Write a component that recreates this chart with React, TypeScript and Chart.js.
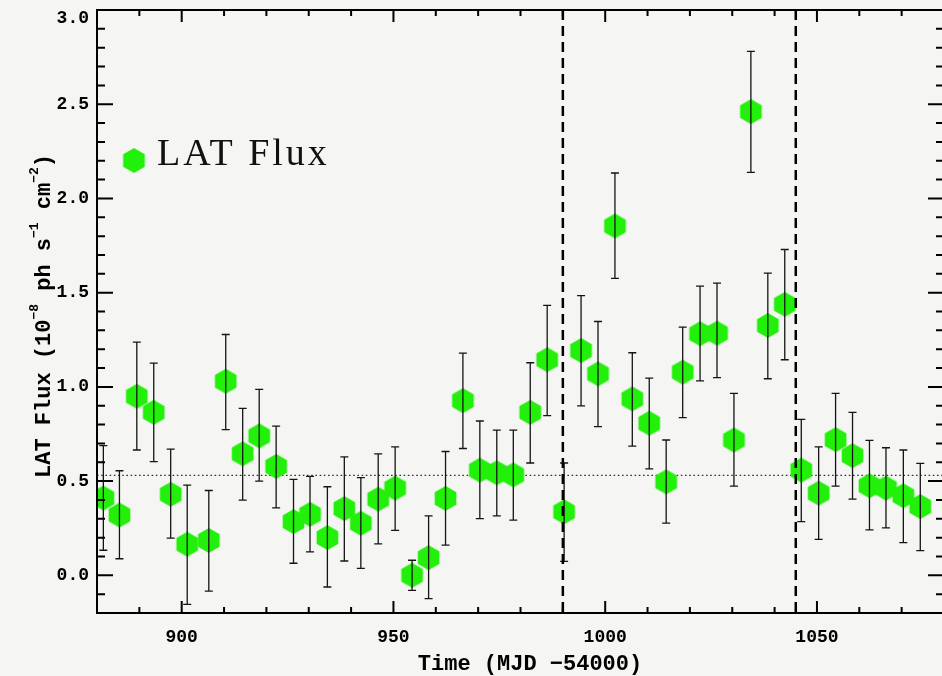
import React, { useEffect, useRef } from "react";
import { Chart, registerables } from "chart.js";

Chart.register(...registerables);

// ---- Data ----
const TIME = [
  881.5, 885.3, 889.4, 893.4, 897.4, 901.3, 906.4, 910.4, 914.4, 918.3,
  922.3, 926.4, 930.3, 934.4, 938.4, 942.3, 946.4, 950.4, 954.4, 958.3,
  962.3, 966.4, 970.4, 974.4, 978.3, 982.3, 986.3, 990.3, 994.3, 998.3,
  1002.3, 1006.4, 1010.4, 1014.4, 1018.3, 1022.4, 1026.4, 1030.4, 1034.4, 1038.4,
  1042.4, 1046.3, 1050.4, 1054.4, 1058.4, 1062.4, 1066.3, 1070.4, 1074.4,
];
const FLUX = [
  0.41, 0.32, 0.95, 0.865, 0.43, 0.165, 0.185, 1.03, 0.645, 0.74,
  0.578, 0.285, 0.324, 0.2, 0.354, 0.276, 0.404, 0.463, 0.0, 0.094,
  0.408, 0.927, 0.558, 0.544, 0.533, 0.865, 1.144, 0.337, 1.193, 1.069,
  1.854, 0.936, 0.807, 0.496, 1.078, 1.282, 1.285, 0.718, 2.461, 1.326,
  1.438, 0.558, 0.436, 0.72, 0.635, 0.475, 0.463, 0.422, 0.365,
];
const FLUX_HIGH = [
  0.688, 0.555, 1.237, 1.126, 0.67, 0.479, 0.45, 1.278, 0.886, 0.987,
  0.792, 0.509, 0.525, 0.47, 0.629, 0.518, 0.644, 0.682, 0.08, 0.315,
  0.657, 1.179, 0.819, 0.771, 0.771, 1.128, 1.432, 0.596, 1.484, 1.347,
  2.135, 1.181, 1.046, 0.718, 1.317, 1.535, 1.551, 0.966, 2.78, 1.604,
  1.729, 0.828, 0.682, 0.966, 0.865, 0.716, 0.677, 0.665, 0.594,
];
const FLUX_LOW = [
  0.133, 0.088, 0.665, 0.603, 0.197, -0.154, -0.084, 0.773, 0.399, 0.5,
  0.358, 0.064, 0.124, -0.062, 0.076, 0.037, 0.167, 0.239, -0.08, -0.124,
  0.16, 0.673, 0.301, 0.315, 0.293, 0.596, 0.847, 0.074, 0.899, 0.789,
  1.576, 0.686, 0.565, 0.277, 0.837, 1.032, 1.049, 0.473, 2.138, 1.043,
  1.144, 0.285, 0.191, 0.473, 0.404, 0.241, 0.252, 0.173, 0.131,
];

const X_TICKS = [900, 950, 1000, 1050];
const X_TICK_LABELS = ["900", "950", "1000", "1050"];
const Y_TICKS = [0, 0.5, 1.0, 1.5, 2.0, 2.5, 3.0];
const Y_TICK_LABELS = ["0.0", "0.5", "1.0", "1.5", "2.0", "2.5", "3.0"];
const X_MINOR_STEP = 10;
const Y_MINOR_STEP = 0.1;
const X_MIN = 880;
const X_MAX = 1080;
const Y_MIN = -0.2;
const Y_MAX = 3.0;
const MEAN_FLUX = 0.53;
const FLARE_BOUNDS = [990, 1045];

const SERIES_LABEL = "LAT Flux";
const X_TITLE = "Time (MJD \u221254000)";
const Y_TITLE_PARTS: [string, boolean][] = [
  ["LAT Flux (10", false],
  ["\u22128", true],
  [" ph s", false],
  ["\u22121", true],
  [" cm", false],
  ["\u22122", true],
  [")", false],
];

const GREEN = "#22f00a";
const BG = "#f5f5f3";
const MONO = "'Liberation Mono', 'DejaVu Sans Mono', monospace";

function makeHexagon(r: number, color: string): HTMLCanvasElement {
  const size = Math.ceil(2 * r) + 2;
  const c = document.createElement("canvas");
  c.width = size;
  c.height = size;
  const ctx = c.getContext("2d")!;
  ctx.fillStyle = color;
  ctx.beginPath();
  for (let i = 0; i < 6; i++) {
    const a = Math.PI / 2 + (i * Math.PI) / 3;
    const x = size / 2 + r * Math.cos(a);
    const y = size / 2 - r * Math.sin(a);
    if (i === 0) ctx.moveTo(x, y);
    else ctx.lineTo(x, y);
  }
  ctx.closePath();
  ctx.fill();
  return c;
}

function range(start: number, end: number, step: number): number[] {
  const out: number[] = [];
  const n = Math.round((end - start) / step);
  for (let i = 0; i <= n; i++) out.push(+(start + i * step).toFixed(6));
  return out;
}

export default function App() {
  const ref = useRef<HTMLCanvasElement | null>(null);

  useEffect(() => {
    if (!ref.current) return;
    const hex = makeHexagon(12.5, GREEN);

    const decor = {
      id: "decor",
      beforeDraw(chart: any) {
        const { ctx, width, height } = chart;
        ctx.save();
        ctx.fillStyle = BG;
        ctx.fillRect(0, 0, width, height);
        ctx.restore();
      },
      beforeDatasetsDraw(chart: any) {
        const { ctx, chartArea } = chart;
        const y = chart.scales.y.getPixelForValue(MEAN_FLUX);
        ctx.save();
        ctx.strokeStyle = "#333";
        ctx.lineWidth = 1.2;
        ctx.setLineDash([1.6, 2.6]);
        ctx.beginPath();
        ctx.moveTo(chartArea.left, y);
        ctx.lineTo(chartArea.right, y);
        ctx.stroke();
        ctx.restore();
      },
      afterDatasetsDraw(chart: any) {
        const { ctx, chartArea } = chart;
        const xs = chart.scales.x;
        const ys = chart.scales.y;
        ctx.save();
        // error bars
        ctx.strokeStyle = "#151515";
        ctx.lineWidth = 1.3;
        for (let i = 0; i < TIME.length; i++) {
          const x = xs.getPixelForValue(TIME[i]);
          const y1 = ys.getPixelForValue(FLUX_HIGH[i]);
          const y2 = ys.getPixelForValue(FLUX_LOW[i]);
          ctx.beginPath();
          ctx.moveTo(x, y1);
          ctx.lineTo(x, y2);
          ctx.moveTo(x - 4, y1);
          ctx.lineTo(x + 4, y1);
          ctx.moveTo(x - 4, y2);
          ctx.lineTo(x + 4, y2);
          ctx.stroke();
        }
        // flare bounds (dashed)
        ctx.strokeStyle = "#000";
        ctx.lineWidth = 2.5;
        ctx.setLineDash([10, 6]);
        for (const b of FLARE_BOUNDS) {
          const x = xs.getPixelForValue(b);
          ctx.beginPath();
          ctx.moveTo(x, chartArea.top);
          ctx.lineTo(x, chartArea.bottom);
          ctx.stroke();
        }
        ctx.restore();
      },
      afterDraw(chart: any) {
        const { ctx, chartArea } = chart;
        const xs = chart.scales.x;
        const ys = chart.scales.y;
        const { left, right, top, bottom } = chartArea;
        ctx.save();
        ctx.strokeStyle = "#000";
        ctx.lineWidth = 2;
        ctx.strokeRect(left, top, right - left, bottom - top);

        // x ticks (bottom & top, inward)
        const xMajor = new Set(X_TICKS.map((v) => v.toFixed(3)));
        ctx.beginPath();
        for (const v of range(X_MIN, X_MAX, X_MINOR_STEP)) {
          const x = xs.getPixelForValue(v);
          const major = xMajor.has(v.toFixed(3));
          const len = major ? 12 : 6;
          ctx.moveTo(x, bottom);
          ctx.lineTo(x, bottom - len);
          ctx.moveTo(x, top);
          ctx.lineTo(x, top + len);
        }
        // y ticks (left & right, inward)
        const yMajor = new Set(Y_TICKS.map((v) => v.toFixed(3)));
        for (const v of range(Y_MIN, Y_MAX, Y_MINOR_STEP)) {
          const y = ys.getPixelForValue(v);
          const major = yMajor.has(v.toFixed(3));
          ctx.moveTo(left, y);
          ctx.lineTo(left + (major ? 16 : 8), y);
          ctx.moveTo(right, y);
          ctx.lineTo(right - (major ? 16 : 8), y);
        }
        ctx.stroke();

        // y tick labels (top one kept inside the canvas like the original)
        ctx.fillStyle = "#000";
        ctx.font = `bold 18px ${MONO}`;
        ctx.textAlign = "right";
        ctx.textBaseline = "middle";
        Y_TICKS.forEach((v, i) => {
          const y = Math.max(ys.getPixelForValue(v), top + 8);
          ctx.fillText(Y_TICK_LABELS[i], left - 8, y);
        });

        // x title
        ctx.font = `bold 22px ${MONO}`;
        ctx.textAlign = "center";
        ctx.textBaseline = "alphabetic";
        ctx.fillText(X_TITLE, 530, 670);

        // y title (rotated, with superscripts)
        const mainFont = `bold 22px ${MONO}`;
        const supFont = `bold 13px ${MONO}`;
        let total = 0;
        for (const [t, sup] of Y_TITLE_PARTS) {
          ctx.font = sup ? supFont : mainFont;
          total += ctx.measureText(t).width;
        }
        ctx.save();
        ctx.translate(50, 316);
        ctx.rotate(-Math.PI / 2);
        ctx.textAlign = "left";
        let cx = -total / 2;
        for (const [t, sup] of Y_TITLE_PARTS) {
          ctx.font = sup ? supFont : mainFont;
          ctx.fillText(t, cx, sup ? -12 : 0);
          cx += ctx.measureText(t).width;
        }
        ctx.restore();

        // legend
        ctx.drawImage(hex, 134 - hex.width / 2, 160.5 - hex.height / 2);
        ctx.fillStyle = "#111";
        ctx.font = "38px 'Liberation Serif', serif";
        (ctx as any).letterSpacing = "3px";
        ctx.textAlign = "left";
        ctx.fillText(SERIES_LABEL, 157, 165);
        ctx.restore();
      },
    };

    const tickFont = { family: MONO, weight: "bold" as const, size: 18 };

    const chart = new Chart(ref.current, {
      type: "scatter",
      data: {
        datasets: [
          {
            label: SERIES_LABEL,
            data: TIME.map((t, i) => ({ x: t, y: FLUX[i] })),
            pointStyle: hex as any,
            pointRadius: 12,
            backgroundColor: GREEN,
            borderColor: GREEN,
          },
        ],
      },
      options: {
        animation: false,
        responsive: false,
        devicePixelRatio: 1,
        layout: { autoPadding: false, padding: { left: 0, right: 6, top: 10, bottom: 0 } },
        plugins: {
          legend: { display: false },
          tooltip: { enabled: false },
        },
        scales: {
          x: {
            type: "linear",
            min: X_MIN,
            max: X_MAX,
            afterBuildTicks: (s: any) => {
              s.ticks = X_TICKS.map((v) => ({ value: v }));
            },
            afterFit: (s: any) => {
              s.height = 63;
              s.paddingLeft = 0;
              s.paddingRight = 0;
            },
            grid: { display: false, drawTicks: false },
            border: { display: false },
            ticks: {
              color: "#000",
              font: tickFont,
              padding: 14,
              maxRotation: 0,
              autoSkip: false,
              callback: (v: any) => {
                const i = X_TICKS.indexOf(Number(v));
                return i >= 0 ? X_TICK_LABELS[i] : "";
              },
            },
          },
          y: {
            type: "linear",
            min: Y_MIN,
            max: Y_MAX,
            afterBuildTicks: (s: any) => {
              s.ticks = Y_TICKS.map((v) => ({ value: v }));
            },
            afterFit: (s: any) => {
              s.width = 97;
              s.paddingTop = 0;
              s.paddingBottom = 0;
            },
            grid: { display: false, drawTicks: false },
            border: { display: false },
            ticks: { display: false },
          },
        },
      },
      plugins: [decor],
    });

    return () => chart.destroy();
  }, []);

  return (
    <div
      style={{
        position: "fixed",
        left: 0,
        top: 0,
        width: 942,
        height: 676,
        overflow: "hidden",
        background: BG,
      }}
    >
      <canvas ref={ref} width={950} height={676} style={{ display: "block" }} />
    </div>
  );
}
